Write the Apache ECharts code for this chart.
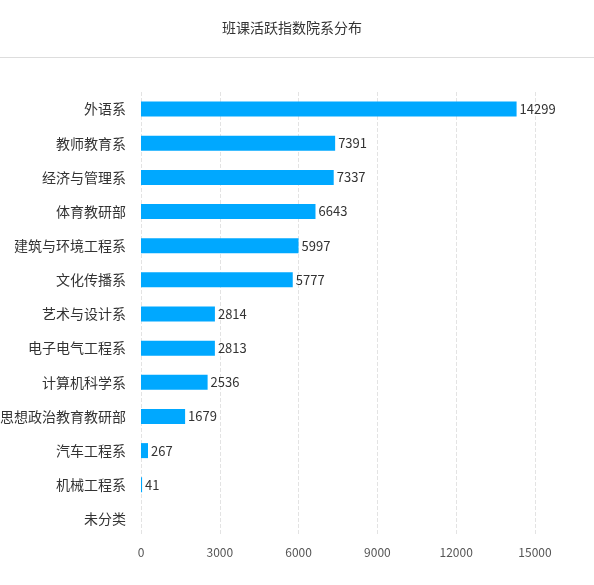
<!DOCTYPE html>
<html>
<head>
<meta charset="utf-8">
<script src="https://cdn.jsdelivr.net/npm/echarts@6/dist/echarts.min.js"></script>
<style>
html,body{margin:0;padding:0;background:#fff;}
#chart{width:594px;height:585px;}
</style>
</head>
<body>
<div id="chart"></div>
<script>
var categories = ['外语系','教师教育系','经济与管理系','体育教研部','建筑与环境工程系','文化传播系','艺术与设计系','电子电气工程系','计算机科学系','思想政治教育教研部','汽车工程系','机械工程系','未分类'];
var values = [14299,7391,7337,6643,5997,5777,2814,2813,2536,1679,267,41,0];
var xTicks = [0,3000,6000,9000,12000,15000];

var font = '"Noto Sans CJK SC", "Noto Sans", sans-serif';
var chart = echarts.init(document.getElementById('chart'));
chart.setOption({
  animation: false,
  textStyle: {fontFamily: font},
  title: {
    text: '班课活跃指数院系分布',
    left: 217,
    top: 16,
    textStyle: {fontSize: 14, fontWeight: 'normal', color: '#333', fontFamily: font}
  },
  graphic: [{
    type: 'line',
    shape: {x1: 0, y1: 57.5, x2: 594, y2: 57.5},
    style: {stroke: '#dddddd', lineWidth: 1}
  }],
  grid: {left: 141, right: 59, top: 92, bottom: 49, containLabel: false, outerBoundsMode: 'none'},
  xAxis: {
    type: 'value',
    min: xTicks[0],
    max: xTicks[xTicks.length - 1],
    interval: 3000,
    axisLine: {show: false},
    axisTick: {show: false},
    axisLabel: {color: '#555', fontSize: 12, margin: 10, fontFamily: font, formatter: function (v) { return String(v); }},
    splitLine: {show: true, lineStyle: {type: 'dashed', color: '#e3e3e3'}}
  },
  yAxis: {
    type: 'category',
    inverse: true,
    data: categories,
    axisLine: {show: false},
    axisTick: {show: false},
    axisLabel: {color: '#333', fontSize: 14, margin: 15, fontFamily: font}
  },
  series: [{
    type: 'bar',
    data: values,
    barWidth: 15,
    itemStyle: {color: '#00a8ff'},
    label: {
      show: true,
      position: 'right',
      distance: 3,
      color: '#333',
      fontSize: 13,
      fontFamily: font,
      formatter: function (p) { return p.value > 0 ? p.value : ''; }
    }
  }]
});
</script>
</body>
</html>
